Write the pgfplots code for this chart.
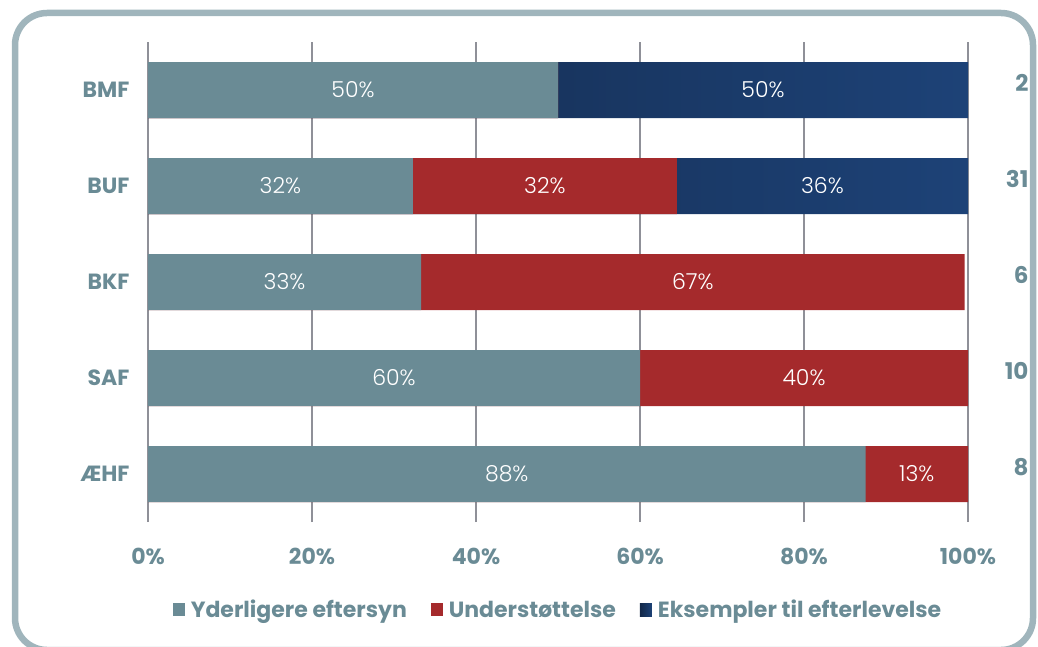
\documentclass[border=0pt]{standalone}
\usepackage{pgfplots}
\pgfplotsset{compat=1.18}
\usepackage{fontspec}
\setmainfont{Poppins}
\newfontfamily\lightfont{Poppins Light}
\definecolor{tealc}{HTML}{6A8B95}
\definecolor{redc}{HTML}{A52A2C}
\definecolor{navyA}{HTML}{1D4277}
\definecolor{navyB}{HTML}{132848}
\definecolor{framec}{HTML}{A0B5BC}
\definecolor{gridc}{HTML}{8F9098}

% cumulative end of each segment (0 = ÆHF ... 4 = BMF)
\pgfplotstableread{
y teal red navy
0 87.5 100  0
1 60   100  0
2 33.3 99.6 0
3 32.3 64.5 100
4 50   50   100
}\bars
\pgfplotstableread{
x y lab
43.75 0 88\%
93.75 0 13\%
30    1 60\%
80    1 40\%
16.65 2 33\%
66.45 2 67\%
16.15 3 32\%
48.4  3 32\%
82.25 3 36\%
25    4 50\%
75    4 50\%
}\labs
\pgfplotstableread{
x y lab
107.8 0 8
107.8 1 10
107.8 2 6
107.8 3 31
107.8 4 2
}\totals

\begin{document}
\begin{tikzpicture}
\useasboundingbox (0,0) rectangle (1038pt,646pt);
\draw[framec, line width=6.5pt, rounded corners=32pt] (15pt,-4pt) rectangle (1033pt,633pt);
\begin{axis}[
    at={(148pt,124pt)}, anchor=south west,
    scale only axis, width=820pt, height=480pt,
    xmin=0, xmax=100, ymin=-0.5, ymax=4.5,
    axis line style={draw=none},
    major tick length=0pt,
    xmajorgrids, grid style={gridc, line width=2pt},
    xtick={0,20,...,100},
    xticklabels={0\%,20\%,40\%,60\%,80\%,100\%},
    ytick={0,...,4},
    yticklabels={ÆHF,SAF,BKF,BUF,BMF},
    ticklabel style={font=\bfseries\fontsize{22}{24}\selectfont, text=tealc},
    xticklabel style={anchor=center, yshift=-34pt},
    yticklabel style={anchor=east, xshift=-15pt},
    clip=false,
    legend style={draw=none, fill=none, at={(0.5,-0.183)}, anchor=center,
        legend columns=-1, font=\bfseries\fontsize{22}{24}\selectfont, text=tealc,
        /tikz/every odd column/.append style={column sep=4pt},
        /tikz/every even column/.append style={column sep=22pt}},
    legend image code/.code={\fill[#1, draw=none] (0pt,-6.5pt) rectangle (12pt,6.5pt);},
]
\addlegendimage{fill=tealc}
\addlegendentry{Yderligere eftersyn}
\addlegendimage{fill=redc}
\addlegendentry{Understøttelse}
\addlegendimage{left color=navyB, right color=navyA}
\addlegendentry{Eksempler til efterlevelse}

\addplot[xbar, bar width=56pt, bar shift=0pt, draw=none, left color=navyB, right color=navyA, forget plot]
    table[x=navy, y=y] {\bars};
\addplot[xbar, bar width=56pt, bar shift=0pt, draw=none, fill=redc, forget plot]
    table[x=red, y=y] {\bars};
\addplot[xbar, bar width=56pt, bar shift=0pt, draw=none, fill=tealc, forget plot]
    table[x=teal, y=y] {\bars};

\addplot[draw=none, mark=none, forget plot, nodes near coords, point meta=explicit symbolic,
    nodes near coords style={anchor=center, text=white, font=\lightfont\fontsize{22}{24}\selectfont}]
    table[x=x, y=y, meta=lab] {\labs};
\addplot[draw=none, mark=none, forget plot, nodes near coords, point meta=explicit symbolic,
    nodes near coords style={anchor=east, yshift=7pt, text=tealc, font=\bfseries\fontsize{23}{24}\selectfont}]
    table[x=x, y=y, meta=lab] {\totals};
\end{axis}
\end{tikzpicture}
\end{document}
